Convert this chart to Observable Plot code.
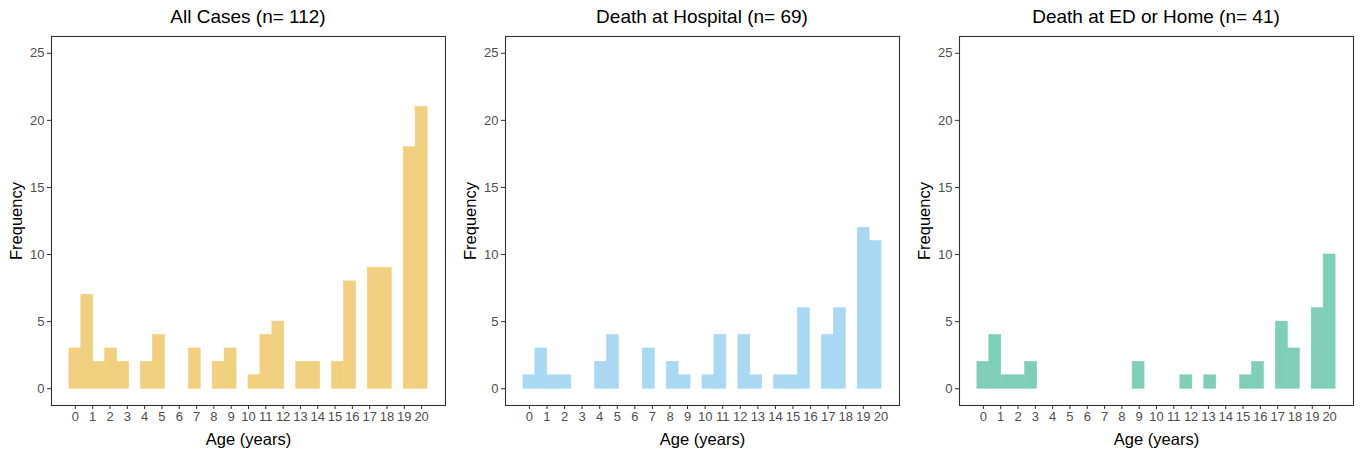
<!DOCTYPE html>
<html>
<head>
<meta charset="utf-8">
<script src="https://cdn.jsdelivr.net/npm/d3@7"></script>
<script src="https://cdn.jsdelivr.net/npm/@observablehq/plot@0.6"></script>
<style>
  html, body { margin: 0; padding: 0; background: #fff; }
  body { width: 1360px; height: 455px; overflow: hidden; font-family: "Liberation Sans", Arial, sans-serif; }
  #wrap { display: flex; flex-direction: row; }
  .panel { flex: none; }
  .title { height: 30px; line-height: 34px; font-size: 19px; color: #000; text-align: center; padding-left: 51px; padding-right: 9px; box-sizing: border-box; white-space: nowrap; }
  svg { display: block; }
</style>
</head>
<body>
<div id="wrap"></div>
<script>
// Panel titles
const titles = ["All Cases (n= 112)", "Death at Hospital (n= 69)", "Death at ED or Home (n= 41)"];
// Fill colours for each panel
const colors = ["#F0CF7E", "#A9D8F2", "#7FCEB8"];
// Age range of the data in each panel (30 bins span it, ggplot-style)
const rangeMin = [0, 0, 0];
const rangeMax = [20, 19.7, 20];
// Counts per bin (30 bins)
const allCases  = [3,7,2,3,2,0,2,4,0,0,3,0,2,3,0,1,4,5,0,2,2,0,2,8,0,9,9,0,18,21];
const hospital  = [1,3,1,1,0,0,2,4,0,0,3,0,2,1,0,1,4,0,4,1,0,1,1,6,0,4,6,0,12,11];
const edHome    = [2,4,1,1,2,0,0,0,0,0,0,0,0,2,0,0,0,1,0,1,0,0,1,2,0,5,3,0,6,10];
const counts = [allCases, hospital, edHome];
// Axis ticks
const xTicks = d3.range(0, 21);
const yTicks = [0, 5, 10, 15, 20, 25];
const yLimits = [0, 25];

const widths = [454, 454, 452];
const wrap = document.getElementById("wrap");

counts.forEach((cnt, p) => {
  const nb = cnt.length;
  const bw = (rangeMax[p] - rangeMin[p]) / (nb - 1);
  const bins = cnt.map((c, k) => {
    const center = rangeMin[p] + k * bw;
    return {x1: center - bw / 2, x2: center + bw / 2, count: c};
  });
  const lo = rangeMin[p] - bw / 2, hi = rangeMax[p] + bw / 2;
  const ex = (hi - lo) * 0.05;
  const ey = (yLimits[1] - yLimits[0]) * 0.05;

  const div = document.createElement("div");
  div.className = "panel";
  div.style.width = widths[p] + "px";
  const t = document.createElement("div");
  t.className = "title";
  t.style.paddingRight = (p === 2 ? 7 : 9) + "px";
  t.textContent = titles[p];
  div.appendChild(t);

  const chart = Plot.plot({
    width: widths[p],
    height: 425,
    marginLeft: 51,
    marginRight: p === 2 ? 7 : 9,
    marginTop: 6,
    marginBottom: 50,
    style: {fontFamily: "Liberation Sans, Arial, sans-serif", fontSize: "13px", color: "#4d4d4d", background: "#fff"},
    x: {domain: [lo - ex, hi + ex]},
    y: {domain: [yLimits[0] - ey, yLimits[1] + ey]},
    marks: [
      Plot.rect(bins.filter(d => d.count > 0), {
        x1: "x1", x2: "x2", y1: () => 0, y2: "count",
        fill: colors[p], stroke: colors[p], strokeWidth: 0.6
      }),
      Plot.frame({stroke: "#333333", strokeWidth: 1.1}),
      Plot.axisX({
        ticks: xTicks, tickFormat: d => String(d), tickSize: 4, tickPadding: 2,
        stroke: "#333333", fill: "#4d4d4d",
        label: "Age (years)", labelAnchor: "center", labelOffset: 39, labelArrow: "none"
      }),
      Plot.axisY({
        ticks: yTicks, tickFormat: d => String(d), tickSize: 4, tickPadding: 3,
        stroke: "#333333", fill: "#4d4d4d",
        label: "Frequency", labelAnchor: "center", labelOffset: 41, labelArrow: "none"
      })
    ]
  });
  chart.querySelectorAll("text").forEach(el => el.setAttribute("font-size", "13px"));
  // axis-title styling (larger, black)
  chart.querySelectorAll("[aria-label='x-axis label'] text, [aria-label='y-axis label'] text").forEach(el => {
    el.setAttribute("font-size", "16.5px");
    el.setAttribute("fill", "#000");
  });
  div.appendChild(chart);
  wrap.appendChild(div);
});
</script>
</body>
</html>
